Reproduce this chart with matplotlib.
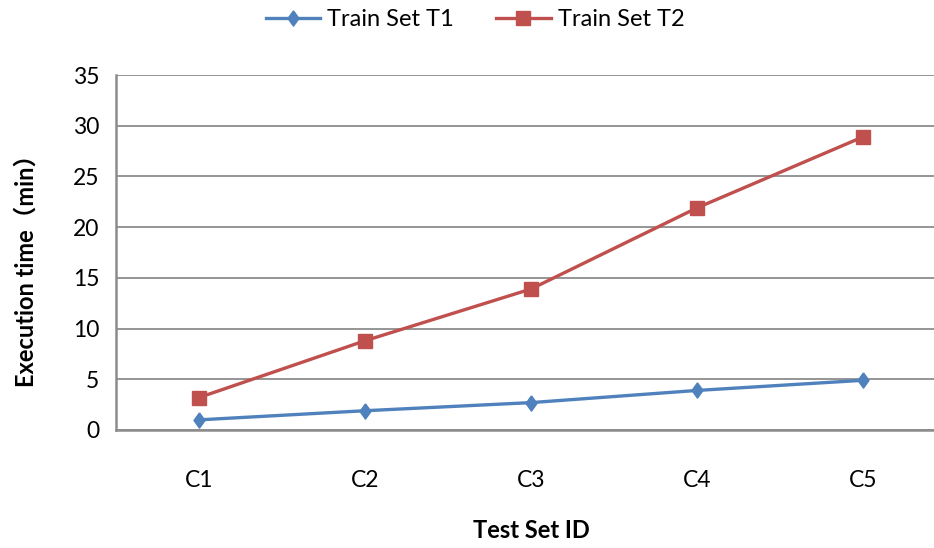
import matplotlib
matplotlib.use("Agg")
import matplotlib.pyplot as plt

plt.rcParams['font.family'] = ['Lato', 'Noto Sans CJK SC', 'DejaVu Sans']

categories = ["C1", "C2", "C3", "C4", "C5"]
train_t1 = [1.0, 1.9, 2.7, 3.9, 4.9]
train_t2 = [3.2, 8.8, 13.9, 21.9, 28.9]
y_ticks = [0, 5, 10, 15, 20, 25, 30, 35]

W, H = 934, 548
fig = plt.figure(figsize=(W / 100, H / 100), dpi=100)
# plot area: left 116px, top 75px, bottom 430px; runs past the right edge
ax = fig.add_axes([116 / W, (H - 430) / H, 830 / W, 355 / H])

x = list(range(len(categories)))
diamond = [(0, 1), (0.72, 0), (0, -1), (-0.72, 0), (0, 1)]

ax.plot(x, train_t1, color="#4F81BD", lw=2.4, marker=diamond, ms=11,
        label="Train Set T1", zorder=3, clip_on=False)
ax.plot(x, train_t2, color="#C0504D", lw=2.4, marker="s", ms=10,
        label="Train Set T2", zorder=3, clip_on=False)

ax.set_xlim(-0.5, len(categories) - 0.5)
ax.set_ylim(0, 35)
ax.set_yticks(y_ticks)
ax.set_xticks(x)
ax.set_xticklabels(categories)
ax.tick_params(axis="both", length=0, labelsize=16.5, colors="black")
ax.tick_params(axis="x", pad=29)
ax.tick_params(axis="y", pad=12)

ax.grid(axis="y", color="#8c8c8c", lw=1.3)
ax.set_axisbelow(True)
for side in ("top", "right"):
    ax.spines[side].set_visible(False)
for side in ("left", "bottom"):
    ax.spines[side].set_color("#8c8c8c")
    ax.spines[side].set_linewidth(1.8)

fig.text(26 / W, 1 - 265 / H, "Execution time（min）", rotation=90,
         ha="center", va="center", fontsize=17, fontweight="bold")
fig.text(531 / W, 1 - 530 / H, "Test Set ID", ha="center", va="center",
         fontsize=17, fontweight="bold")

fig.legend(loc="center", bbox_to_anchor=(475 / W, 1 - 20 / H), ncol=2,
           frameon=False, fontsize=17, handlelength=2.3, columnspacing=1.8,
           handletextpad=0.3)

fig.savefig("out.png", dpi=100)
